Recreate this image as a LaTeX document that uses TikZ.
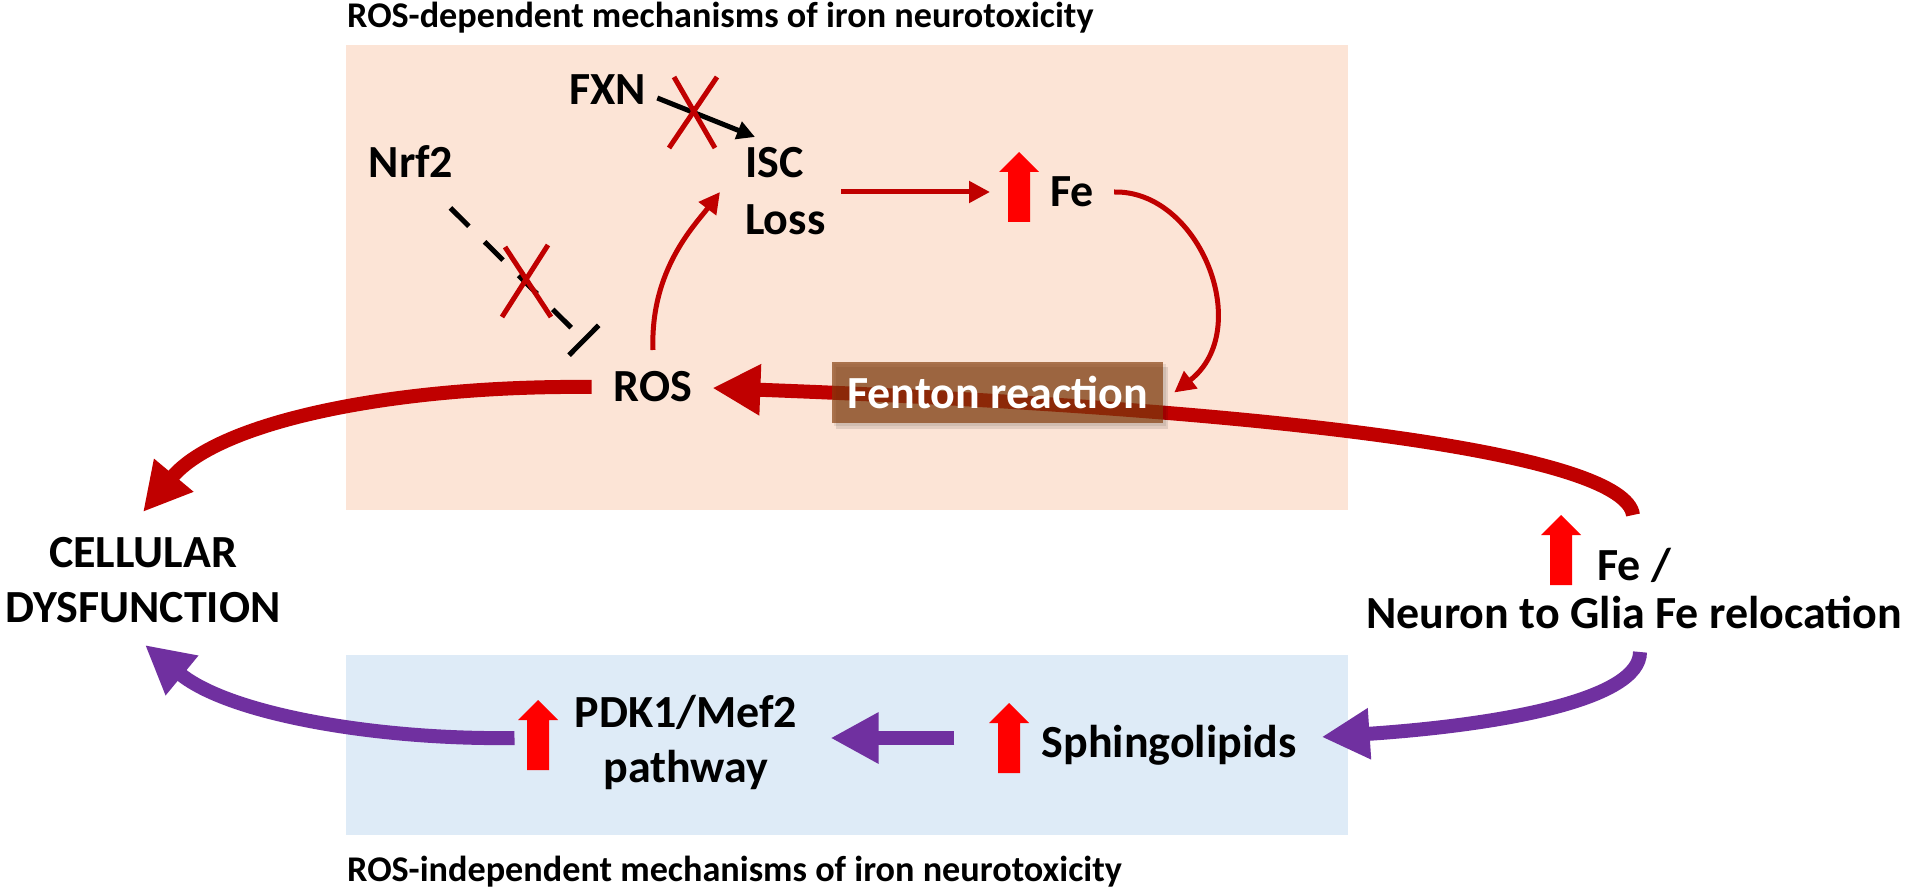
\documentclass[tikz,border=0pt]{standalone}
\usepackage{fontspec}
\setmainfont{Carlito}
\usetikzlibrary{arrows.meta}
\definecolor{peach}{HTML}{FCE4D6}
\definecolor{paleblue}{HTML}{DEEBF7}
\definecolor{darkred}{HTML}{C00000}
\definecolor{purp}{HTML}{7030A0}
\definecolor{brbox}{HTML}{843C0C}
\tikzset{
  lbl/.style={font=\bfseries\fontsize{46}{55}\selectfont, inner sep=0pt, text=black},
  ttl/.style={font=\bfseries\fontsize{36.2}{40}\selectfont, inner sep=0pt, text=black},
  thinred/.style={draw=darkred, line width=5pt, -{Triangle[length=21pt,width=21pt]}},
  blkarr/.style={draw=black, line width=5pt, -{Triangle[length=18pt,width=18pt]}},
  dashinh/.style={draw=black, line width=5pt, dash pattern=on 26pt off 22pt, -{Bar[width=42pt]}},
  bigred/.style={draw=darkred, line width=14pt, -{Triangle[length=48pt,width=48pt]}},
  bigpurp/.style={draw=purp, line width=14pt, -{Triangle[length=48pt,width=48pt]}},
  crossmark/.style={draw=darkred, line width=5pt},
  fentonbox/.style={lbl, fill=brbox, fill opacity=0.68, text opacity=1, text=white,
    minimum width=331pt, minimum height=61pt},
  uparr/.pic={\fill[red] (-11,0) -- (-11,-50) -- (-20,-50) -- (0,-70) -- (20,-50) -- (11,-50) -- (11,0) -- cycle;},
}
\begin{document}
\begin{tikzpicture}[x=1pt,y=-1pt]
\useasboundingbox (0,0) rectangle (1923,893);
\fill[white] (0,0) rectangle (1923,893);
% panels
\fill[peach] (346,45) rectangle (1348,510);
\fill[paleblue] (346,655) rectangle (1348,835);
% titles
\node[ttl, anchor=base west] (ttop) at (347,28) {ROS-dependent mechanisms of iron neurotoxicity};
\node[ttl, anchor=base west] (tbot) at (347,881) {ROS-independent mechanisms of iron neurotoxicity};
% labels
\node[lbl, anchor=base] (fxn) at (608,105) {FXN};
\node[lbl, anchor=base] (nrf) at (411,178) {Nrf2};
\node[lbl, anchor=base west, align=left, font=\bfseries\fontsize{46}{57}\selectfont] (isc) at (745,235) {ISC\\Loss};
\node[lbl, anchor=base west] (fe) at (1050,207) {Fe};
\node[lbl, anchor=base] (ros) at (653,402) {ROS};
\node[lbl, anchor=base, align=center] (cd) at (143,622) {CELLULAR\\DYSFUNCTION};
\node[lbl, anchor=base, align=center, font=\bfseries\fontsize{46}{48}\selectfont] (neu) at (1634,628) {Fe /\\Neuron to Glia Fe relocation};
\node[lbl, anchor=base] (sph) at (1169,757) {Sphingolipids};
\node[lbl, anchor=base, align=center] (pdk) at (686,782) {PDK1/Mef2\\pathway};
% up arrows
\pic at (1019,222) {uparr};
\pic at (1561,585) {uparr};
\pic at (1009,773) {uparr};
\pic at (538,770) {uparr};
% big red arc into ROS (drawn beneath the Fenton box)
\draw[bigred] ([shift={(-1,-113)}]neu.base) .. controls (1625,455) and (1300,410) .. ([shift={(20,-14)}]ros.base east);
% soft shadow of the Fenton box
\fill[black, opacity=0.10] (836,367) rectangle (1168,429);
\fill[black, opacity=0.08] (834,364) rectangle (1166,426);
% Fenton box
\node[fentonbox] (fenton) at (997.5,392.5) {Fenton reaction};
% connectors
\draw[blkarr] ([shift={(11,-7)}]fxn.base east) -- ([shift={(10,-98)}]isc.base west);
\draw[dashinh] ([shift={(-3,30)}]nrf.base east) -- ([shift={(-28,-60)}]ros.base west);
\draw[thinred] ([shift={(0,-52)}]ros.base) .. controls (650,270) and (695,225) .. ([shift={(-25,-43)}]isc.base west);
\draw[thinred] ([shift={(96,-43)}]isc.base west) -- ([shift={(-60,-15)}]fe.base west);
\draw[thinred] ([shift={(20,-15)}]fe.base east) .. controls (1200,190) and (1255,330) .. ([shift={(11,0)}]fenton.east);
\draw[bigred] ([shift={(-22,-15)}]ros.base west) .. controls (400,385) and (220,420) .. ([shift={(0,-110)}]cd.base);
\draw[bigpurp] ([shift={(6,24)}]neu.base) .. controls (1640,700) and (1500,725) .. ([shift={(25,-20)}]sph.base east);
\draw[bigpurp] ([shift={(-87,-19)}]sph.base west) -- ([shift={(33,-44)}]pdk.base east);
\draw[bigpurp] ([shift={(-60,-44)}]pdk.base west) .. controls (380,740) and (230,715) .. ([shift={(2,23)}]cd.base);
% crosses
\draw[crossmark] (674,77) -- (715,148);
\draw[crossmark] (717,77) -- (669,148);
\draw[crossmark] (505,247) -- (551,317);
\draw[crossmark] (548,245) -- (502,317);
\end{tikzpicture}
\end{document}
